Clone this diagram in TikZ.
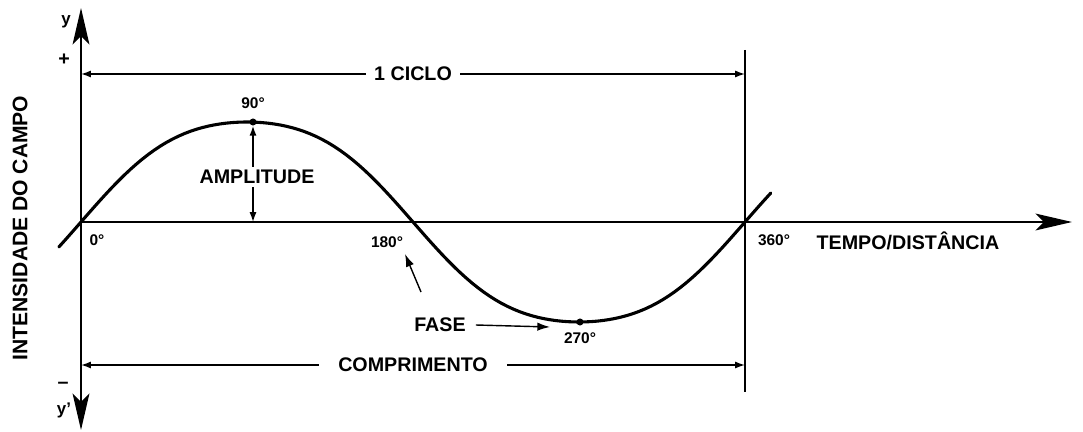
\documentclass[tikz,border=0pt]{standalone}
\usepackage{fontspec}
\setmainfont{Liberation Sans}
\usepackage{tikz}
\usetikzlibrary{arrows.meta}
\tikzset{axis line/.style={line width=1.3pt,-{Stealth[length=26pt,width=12pt,inset=6pt]}},wave/.style={line width=2.2pt,line cap=round},dim line/.style={line width=1pt,{Latex[length=7pt,width=5pt]}-{Latex[length=7pt,width=5pt]}},pointer/.style={line width=1pt,-{Latex[length=9pt,width=6pt]}},big label/.style={font=\fontsize{14}{16}\selectfont\bfseries,inner sep=2pt},small label/.style={font=\fontsize{11}{13}\selectfont\bfseries,inner sep=1pt},mark dot/.style={circle,fill=black,inner sep=0pt,minimum size=5pt}}
\begin{document}
\begin{tikzpicture}[x=0.025cm,y=-0.025cm]
 \useasboundingbox (0,0) rectangle (1083,432);
 \coordinate (origin) at (81,222);
 \coordinate (ytop) at (81,8);
 \coordinate (ybot) at (81,430);
 \coordinate (xend) at (1072,222);
 \coordinate (endtop) at (745,50);
 \coordinate (endbot) at (745,392);
 \draw[axis line] (origin) -- (ytop);
 \draw[axis line] (origin) -- (ybot);
 \draw[axis line] (origin) -- (xend);
 \draw[line width=1.3pt] (endtop) -- (endbot);
 \node[small label,font=\fontsize{12}{14}\selectfont\bfseries] (ylab) at (66,22) {y};
 \node[big label] (plus) at (64,60) {+};
 \node[big label] (minus) at (63,385) {--};
 \node[small label,font=\fontsize{12}{14}\selectfont\bfseries] (yplab) at (64,410) {y'};
 \node[big label,rotate=90,font=\fontsize{15}{17}\selectfont\bfseries] (intensidade) at (20,228) {INTENSIDADE DO CAMPO};
 \draw[wave] plot[domain=-12:374,samples=120,variable=\t] ({81+1.8444*\t},{222-100*(sin(\t)+0.05*sin(3*\t))/0.95});
 \node[mark dot] (peak) at (253,122) {};
 \node[mark dot] (trough) at (580,322) {};
 \coordinate (ciclo a) at (81,74);
 \coordinate (ciclo b) at (745,74);
 \draw[dim line] (ciclo a) -- node[big label,fill=white,inner xsep=6pt] (ciclo) {1 CICLO} (ciclo b);
 \coordinate (comp a) at (81,365);
 \coordinate (comp b) at (745,365);
 \draw[dim line] (comp a) -- node[big label,fill=white,inner xsep=14pt] (comprimento) {COMPRIMENTO} (comp b);
 \coordinate (ampbase) at (253,222);
 \draw[dim line] (peak) -- (ampbase);
 \node[big label,fill=white] (amplitude) at (257,177) {AMPLITUDE};
 \node[small label] (deg90) at (253,103) {90°};
 \node[small label] (deg0) at (97,240) {0°};
 \node[small label] (deg180) at (387,242) {180°};
 \node[small label] (deg360) at (774,240) {360°};
 \node[small label] (deg270) at (580,338) {270°};
 \node[big label] (tempo) at (908,241) {TEMPO/DISTÂNCIA};
 \node[big label] (fase) at (440,325) {FASE};
 \coordinate (fasetip) at (550,327);
 \draw[pointer] (fase.east) ++(7,0) -- (fasetip);
 \coordinate (zerotail) at (421,292);
 \coordinate (zerotip) at (405,254);
 \draw[pointer] (zerotail) -- (zerotip);
\end{tikzpicture}
\end{document}
